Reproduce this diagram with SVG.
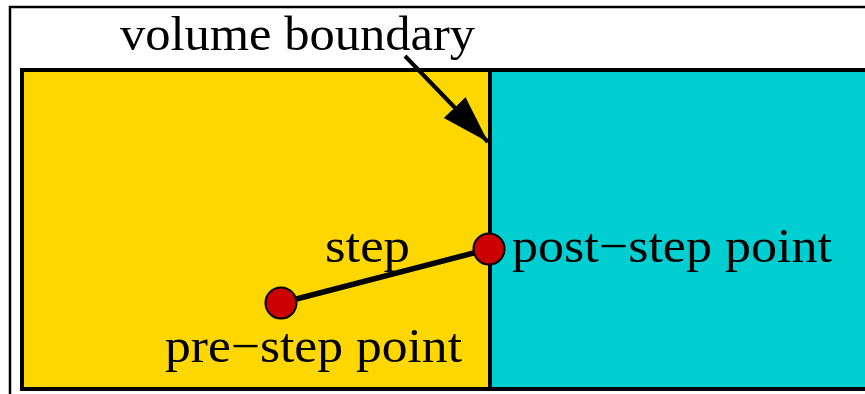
<svg xmlns="http://www.w3.org/2000/svg" width="865" height="394" viewBox="0 0 865 394">
<defs>
<style>
.lbl{font-family:"Liberation Serif","Times New Roman",serif;font-size:48px;fill:#000}
.pt{fill:#cc0000;stroke:#000;stroke-width:2}
</style>
<marker id="ah" markerUnits="userSpaceOnUse" markerWidth="50" markerHeight="40" refX="48" refY="15" orient="auto" viewBox="0 0 50 30">
<path d="M0,0 L48,15 L0,30 Z" fill="#000"/>
</marker>
</defs>
<rect x="0" y="0" width="865" height="394" fill="#fff"/>
<g id="frame">
<rect x="10" y="7" width="900" height="420" fill="#fff" stroke="#000" stroke-width="2.5"/>
</g>
<g id="volume-left">
<rect x="22" y="70" width="468" height="319" fill="#ffd700" stroke="#000" stroke-width="4"/>
</g>
<g id="volume-right">
<rect x="490" y="70" width="420" height="319" fill="#00ced1" stroke="#000" stroke-width="4"/>
</g>
<g id="connectors">
<line x1="405" y1="56" x2="488" y2="142" stroke="#000" stroke-width="4" marker-end="url(#ah)"/>
<line x1="281" y1="303" x2="489" y2="249" stroke="#000" stroke-width="5.5"/>
</g>
<g id="pre-step">
<circle class="pt" cx="281" cy="303" r="15.5"/>
<text class="lbl" x="165" y="362" textLength="297" lengthAdjust="spacingAndGlyphs">pre−step point</text>
</g>
<g id="post-step">
<circle class="pt" cx="489" cy="249" r="15.5"/>
<text class="lbl" x="512" y="262" textLength="320" lengthAdjust="spacingAndGlyphs">post−step point</text>
</g>
<g id="step-label">
<text class="lbl" x="325" y="262" textLength="85" lengthAdjust="spacingAndGlyphs">step</text>
</g>
<g id="boundary-label">
<text class="lbl" x="120" y="50" textLength="355" lengthAdjust="spacingAndGlyphs">volume boundary</text>
</g>
</svg>
